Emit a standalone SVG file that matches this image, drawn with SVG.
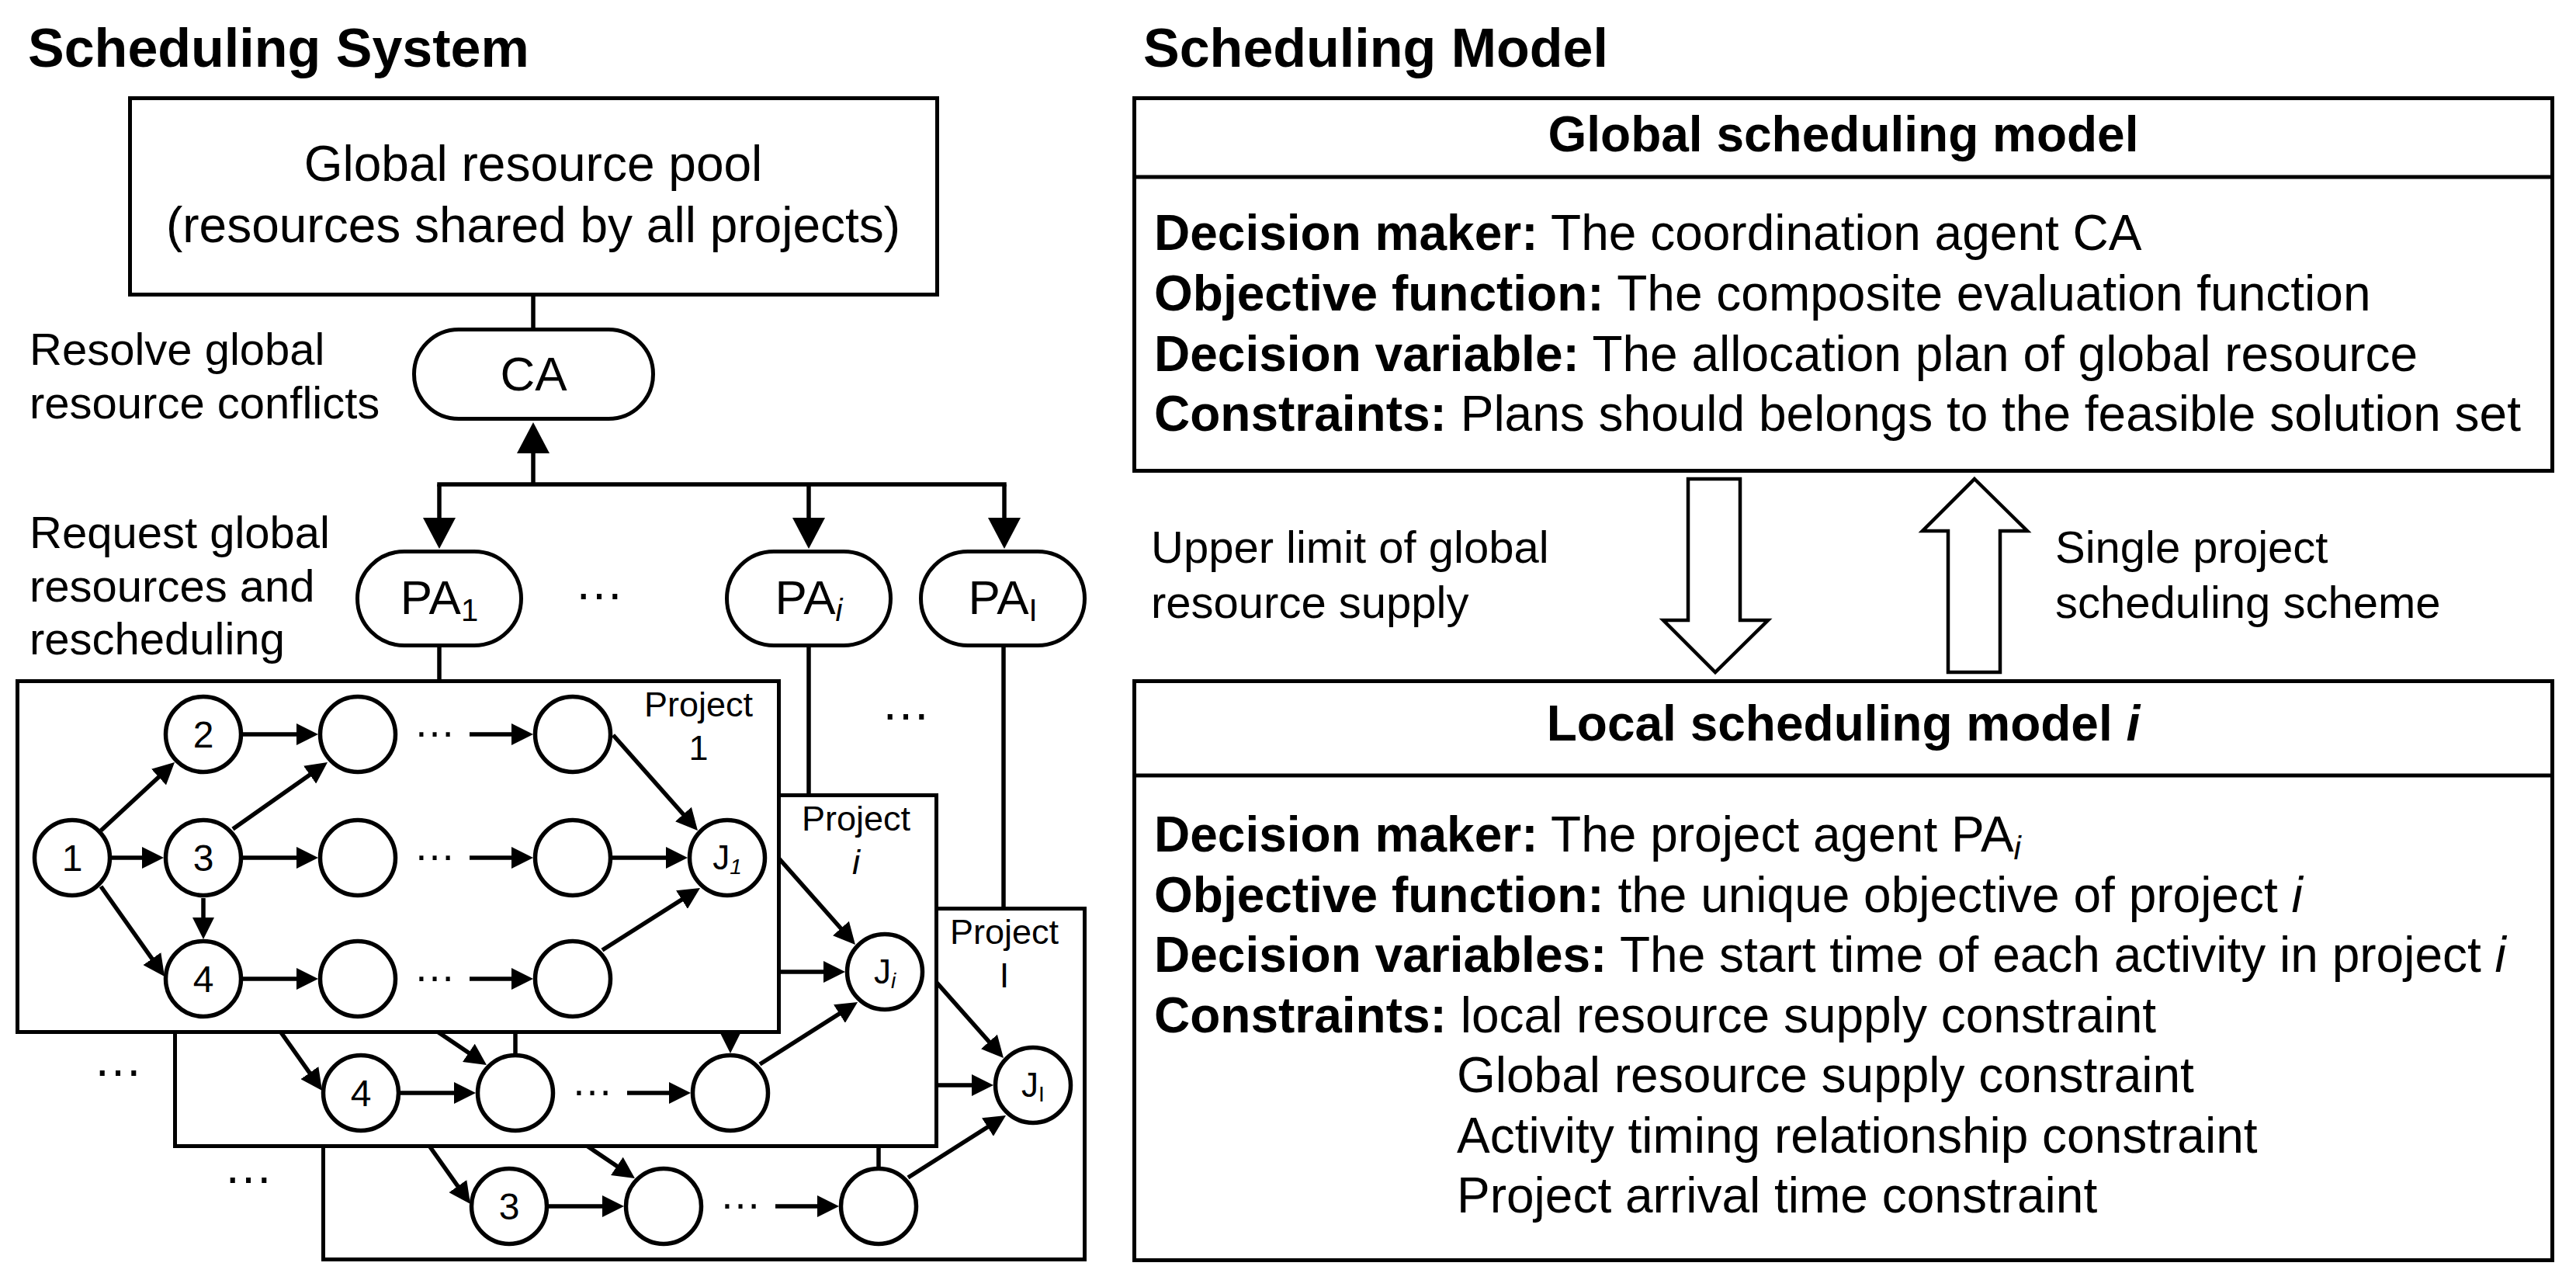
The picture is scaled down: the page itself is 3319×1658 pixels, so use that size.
<svg xmlns="http://www.w3.org/2000/svg" width="3319" height="1658" viewBox="0 0 3319 1658">
<defs>
<style>
text{font-family:"Liberation Sans",Arial,Helvetica,sans-serif;fill:#000}
.title{font-size:70px;font-weight:bold}
.lbl{font-size:58px}
.pool{font-size:64px}
.agent{font-size:62px}
.body{font-size:64px}
.bold{font-weight:bold}
.it{font-style:italic}
.num{font-size:48px}
.jl{font-size:44px}
.plbl{font-size:45px}
.dots{font-size:54px}
.bdots{font-size:64px}
.box{fill:#fff;stroke:#000;stroke-width:5}
.pill{fill:#fff;stroke:#000;stroke-width:5}
.node{fill:#fff;stroke:#000;stroke-width:5.5}
.edge{fill:none;stroke:#000;stroke-width:5.5}
.link{fill:none;stroke:#000;stroke-width:5.5}
.div{fill:none;stroke:#000;stroke-width:5}
.hollow{fill:#fff;stroke:#000;stroke-width:4.5;stroke-linejoin:miter}
</style>
<marker id="ah" markerUnits="userSpaceOnUse" markerWidth="28" markerHeight="28" refX="16" refY="14" orient="auto"><path d="M0,0 L28,14 L0,28 z" fill="#000"/></marker>
<marker id="bh" markerUnits="userSpaceOnUse" markerWidth="40" markerHeight="42" refX="22" refY="21" orient="auto"><path d="M0,0 L40,21 L0,42 z" fill="#000"/></marker>
</defs>
<rect width="3319" height="1658" fill="#fff"/>

<text class="title" x="36" y="86">Scheduling System</text>
<text class="title" x="1473" y="86">Scheduling Model</text>

<g id="global-pool">
<rect class="box" x="167.5" y="126.5" width="1040" height="253"/>
<text class="pool" x="687" y="233" text-anchor="middle">Global resource pool</text>
<text class="pool" x="687" y="312" text-anchor="middle">(resources shared by all projects)</text>
</g>

<text class="lbl" x="38" y="470">Resolve global</text>
<text class="lbl" x="38" y="539">resource conflicts</text>
<text class="lbl" x="38" y="706">Request global</text>
<text class="lbl" x="38" y="775">resources and</text>
<text class="lbl" x="38" y="843">rescheduling</text>

<g id="top-connectors">
<line class="link" x1="687" y1="381" x2="687" y2="423"/>
<line class="link" x1="687" y1="624" x2="687" y2="562" marker-end="url(#bh)"/>
<line class="link" x1="563.25" y1="624" x2="1296.75" y2="624"/>
<line class="link" x1="566" y1="624" x2="566" y2="689" marker-end="url(#bh)"/>
<line class="link" x1="1042" y1="624" x2="1042" y2="689" marker-end="url(#bh)"/>
<line class="link" x1="1294" y1="624" x2="1294" y2="689" marker-end="url(#bh)"/>
<line class="link" x1="566" y1="833" x2="566" y2="877"/>
<line class="link" x1="1042" y1="833" x2="1042" y2="1022"/>
<line class="link" x1="1293" y1="833" x2="1293" y2="1170"/>
</g>

<g id="ca">
<rect class="pill" x="533.5" y="424.5" width="308" height="115" rx="57.5"/>
<text class="agent" x="687.5" y="503" text-anchor="middle">CA</text>
</g>
<g id="pa-1">
<rect class="pill" x="460.5" y="710.5" width="211" height="121" rx="60.5"/>
<text class="agent" x="566" y="791" text-anchor="middle">PA<tspan font-size="40" dy="9">1</tspan></text>
</g>
<g id="pa-i">
<rect class="pill" x="936.5" y="710.5" width="211" height="121" rx="60.5"/>
<text class="agent" x="1042" y="791" text-anchor="middle">PA<tspan font-size="40" dy="9" font-style="italic">i</tspan></text>
</g>
<g id="pa-I">
<rect class="pill" x="1186.5" y="710.5" width="211" height="121" rx="60.5"/>
<text class="agent" x="1292" y="791" text-anchor="middle">PA<tspan font-size="40" dy="9">I</tspan></text>
</g>
<text class="bdots" x="772" y="772" text-anchor="middle">…</text>
<text class="bdots" x="1167" y="927" text-anchor="middle">…</text>
<text class="bdots" x="152" y="1386" text-anchor="middle">…</text>
<text class="bdots" x="320" y="1524" text-anchor="middle">…</text>

<!-- Project I (back) -->
<g id="project-I" transform="translate(394,293)">
<rect class="box" x="22.5" y="877.5" width="981" height="452"/>
<text class="plbl" x="900" y="923" text-anchor="middle">Project</text>
<text class="plbl" x="900" y="979" text-anchor="middle">I</text>
<g id="project-I-connectors">
<path class="edge" d="M130,1142 L205.1,1248.2" marker-end="url(#ah)"/>
<path class="edge" d="M300,1141 L414.1,1218.3" marker-end="url(#ah)"/>
<path class="edge" d="M738,1157 L738,1212"/>
<path class="edge" d="M313,1261 L398,1261" marker-end="url(#ah)"/>
<path class="edge" d="M605,1261 L675,1261" marker-end="url(#ah)"/>
<path class="edge" d="M776,1224 L891.9,1150.4" marker-end="url(#ah)"/>
<path class="edge" d="M789,1105 L874,1105" marker-end="url(#ah)"/>
<path class="edge" d="M790,947 L891,1061" marker-end="url(#ah)"/>
</g>
<text class="dots" x="560" y="1264" text-anchor="middle">…</text>
<g id="pI-a"><circle class="node" cx="262" cy="1261" r="48.5"/><text class="num" x="262" y="1278" text-anchor="middle">3</text></g>
<g id="pI-b"><circle class="node" cx="461" cy="1261" r="48.5"/></g>
<g id="pI-c"><circle class="node" cx="738" cy="1261" r="48.5"/></g>
<g id="pI-J"><circle class="node" cx="937" cy="1105" r="48.5"/><text class="jl" x="937" y="1120" text-anchor="middle">J<tspan font-size="28" dy="6">I</tspan></text></g>
</g>

<!-- Project i (middle) -->
<g id="project-i" transform="translate(203,147)">
<rect class="box" x="22.5" y="877.5" width="981" height="452"/>
<text class="plbl" x="900" y="923" text-anchor="middle">Project</text>
<text class="plbl it" x="900" y="979" text-anchor="middle">i</text>
<g id="project-i-connectors">
<path class="edge" d="M130,1142 L205.1,1248.2" marker-end="url(#ah)"/>
<path class="edge" d="M300,1141 L414.1,1218.3" marker-end="url(#ah)"/>
<path class="edge" d="M461,1157 L461,1212"/>
<path class="edge" d="M738,1157 L738,1198" marker-end="url(#ah)"/>
<path class="edge" d="M313,1261 L398,1261" marker-end="url(#ah)"/>
<path class="edge" d="M605,1261 L675,1261" marker-end="url(#ah)"/>
<path class="edge" d="M776,1224 L891.9,1150.4" marker-end="url(#ah)"/>
<path class="edge" d="M789,1105 L874,1105" marker-end="url(#ah)"/>
<path class="edge" d="M790,947 L891,1061" marker-end="url(#ah)"/>
</g>
<text class="dots" x="560" y="1264" text-anchor="middle">…</text>
<g id="pi-a"><circle class="node" cx="262" cy="1261" r="48.5"/><text class="num" x="262" y="1278" text-anchor="middle">4</text></g>
<g id="pi-b"><circle class="node" cx="461" cy="1261" r="48.5"/></g>
<g id="pi-c"><circle class="node" cx="738" cy="1261" r="48.5"/></g>
<g id="pi-J"><circle class="node" cx="937" cy="1105" r="48.5"/><text class="jl" x="937" y="1120" text-anchor="middle">J<tspan font-size="28" dy="6" font-style="italic">i</tspan></text></g>
</g>

<!-- Project 1 (front) -->
<g id="project-1">
<rect class="box" x="22.5" y="877.5" width="981" height="452"/>
<text class="plbl" x="900" y="923" text-anchor="middle">Project</text>
<text class="plbl" x="900" y="979" text-anchor="middle">1</text>
<g id="project-1-connectors">
<path class="edge" d="M130,1070 L216.2,990.2" marker-end="url(#ah)"/>
<path class="edge" d="M144,1105 L199,1105" marker-end="url(#ah)"/>
<path class="edge" d="M130,1142 L205.1,1248.2" marker-end="url(#ah)"/>
<path class="edge" d="M262,1157 L262,1198" marker-end="url(#ah)"/>
<path class="edge" d="M300,1068 L412.2,988.9" marker-end="url(#ah)"/>
<path class="edge" d="M313,946 L398,946" marker-end="url(#ah)"/>
<path class="edge" d="M313,1105 L398,1105" marker-end="url(#ah)"/>
<path class="edge" d="M313,1261 L398,1261" marker-end="url(#ah)"/>
<path class="edge" d="M605,946 L675,946" marker-end="url(#ah)"/>
<path class="edge" d="M605,1105 L675,1105" marker-end="url(#ah)"/>
<path class="edge" d="M605,1261 L675,1261" marker-end="url(#ah)"/>
<path class="edge" d="M790,947 L891,1061" marker-end="url(#ah)"/>
<path class="edge" d="M789,1105 L874,1105" marker-end="url(#ah)"/>
<path class="edge" d="M776,1224 L891.9,1150.4" marker-end="url(#ah)"/>
</g>
<text class="dots" x="560" y="949" text-anchor="middle">…</text>
<text class="dots" x="560" y="1108" text-anchor="middle">…</text>
<text class="dots" x="560" y="1264" text-anchor="middle">…</text>
<g id="p1-n1"><circle class="node" cx="93" cy="1105" r="48.5"/><text class="num" x="93" y="1122" text-anchor="middle">1</text></g>
<g id="p1-n2"><circle class="node" cx="262" cy="946" r="48.5"/><text class="num" x="262" y="963" text-anchor="middle">2</text></g>
<g id="p1-n3"><circle class="node" cx="262" cy="1105" r="48.5"/><text class="num" x="262" y="1122" text-anchor="middle">3</text></g>
<g id="p1-n4"><circle class="node" cx="262" cy="1261" r="48.5"/><text class="num" x="262" y="1278" text-anchor="middle">4</text></g>
<g id="p1-r1c3"><circle class="node" cx="461" cy="946" r="48.5"/></g>
<g id="p1-r2c3"><circle class="node" cx="461" cy="1105" r="48.5"/></g>
<g id="p1-r3c3"><circle class="node" cx="461" cy="1261" r="48.5"/></g>
<g id="p1-r1c4"><circle class="node" cx="738" cy="946" r="48.5"/></g>
<g id="p1-r2c4"><circle class="node" cx="738" cy="1105" r="48.5"/></g>
<g id="p1-r3c4"><circle class="node" cx="738" cy="1261" r="48.5"/></g>
<g id="p1-J"><circle class="node" cx="937" cy="1105" r="48.5"/><text class="jl" x="937" y="1120" text-anchor="middle">J<tspan font-size="28" dy="6" font-style="italic">1</tspan></text></g>
</g>

<!-- Right panel -->
<g id="global-model">
<rect class="box" x="1461.5" y="126.5" width="1827" height="480"/>
<line class="div" x1="1459" y1="228" x2="3291" y2="228"/>
<text class="body bold" x="2375" y="195" text-anchor="middle">Global scheduling model</text>
<text class="body" x="1487" y="322"><tspan class="bold">Decision maker:</tspan> The coordination agent CA</text>
<text class="body" x="1487" y="400"><tspan class="bold">Objective function:</tspan> The composite evaluation function</text>
<text class="body" x="1487" y="477.5"><tspan class="bold">Decision variable:</tspan> The allocation plan of global resource</text>
<text class="body" x="1487" y="555"><tspan class="bold">Constraints:</tspan> Plans should belongs to the feasible solution set</text>
</g>

<g id="model-connectors">
<polygon class="hollow" points="2175,617 2242,617 2242,799 2278,799 2210,866 2143,799 2175,799"/>
<polygon class="hollow" points="2544,617 2612,684 2577,684 2577,866 2510,866 2510,684 2477,684"/>
</g>
<text class="lbl" x="1483" y="725">Upper limit of global</text>
<text class="lbl" x="1483" y="796">resource supply</text>
<text class="lbl" x="2648" y="725">Single project</text>
<text class="lbl" x="2648" y="796">scheduling scheme</text>

<g id="local-model">
<rect class="box" x="1461.5" y="877.5" width="1827" height="746"/>
<line class="div" x1="1459" y1="999" x2="3291" y2="999"/>
<text class="body bold" x="2375" y="954" text-anchor="middle">Local scheduling model <tspan class="it">i</tspan></text>
<text class="body" x="1487" y="1097"><tspan class="bold">Decision maker:</tspan> The project agent PA<tspan class="it" font-size="42" dy="10">i</tspan></text>
<text class="body" x="1487" y="1175"><tspan class="bold">Objective function:</tspan> the unique objective of project <tspan class="it">i</tspan></text>
<text class="body" x="1487" y="1252"><tspan class="bold">Decision variables:</tspan> The start time of each activity in project <tspan class="it">i</tspan></text>
<text class="body" x="1487" y="1330"><tspan class="bold">Constraints:</tspan> local resource supply constraint</text>
<text class="body" x="1877" y="1407">Global resource supply constraint</text>
<text class="body" x="1877" y="1485">Activity timing relationship constraint</text>
<text class="body" x="1877" y="1562">Project arrival time constraint</text>
</g>
</svg>
